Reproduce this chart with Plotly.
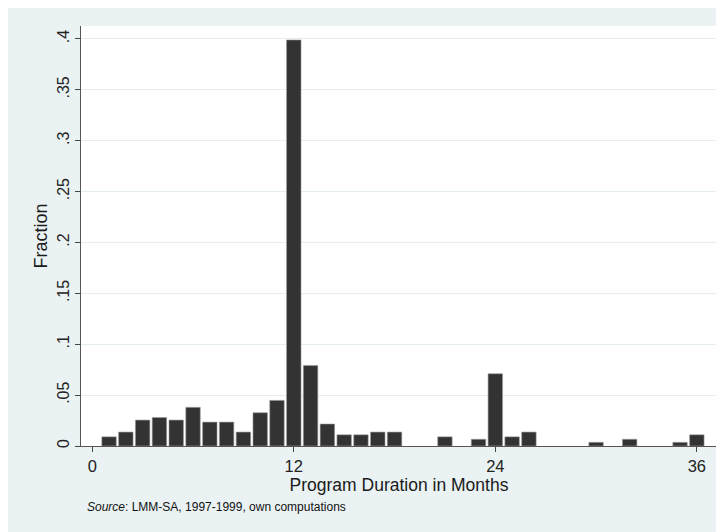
import plotly.graph_objects as go

# Share of programs by duration (months)
months = [1, 2, 3, 4, 5, 6, 7, 8, 9, 10, 11, 12, 13, 14, 15, 16, 17, 18,
          21, 23, 24, 25, 26, 30, 32, 35, 36]
fraction = [0.009, 0.0137, 0.0255, 0.028, 0.0255, 0.038, 0.0235, 0.0235, 0.0137,
            0.0327, 0.0448, 0.399, 0.079, 0.0216, 0.011, 0.011, 0.0137, 0.0137,
            0.009, 0.0066, 0.071, 0.009, 0.0137, 0.0036, 0.0066, 0.0036, 0.011]

y_ticks = [0, 0.05, 0.1, 0.15, 0.2, 0.25, 0.3, 0.35, 0.4]
y_labels = ["0", ".05", ".1", ".15", ".2", ".25", ".3", ".35", ".4"]
x_ticks = [0, 12, 24, 36]

bg = "#eaf2f3"
font = "Liberation Sans, Arial, sans-serif"

fig = go.Figure(go.Bar(
    x=months, y=fraction, width=0.86,
    marker=dict(color="#333333", line=dict(color="#9a9a9a", width=0.6)),
))

# Source note
fig.add_annotation(
    text="<i>Source</i>: LMM-SA, 1997-1999, own computations",
    xref="paper", yref="paper", x=0.006, y=-0.145, xanchor="left", yanchor="middle",
    showarrow=False, font=dict(family=font, size=12, color="#111111"),
)

fig.update_layout(
    width=724, height=532,
    margin=dict(l=73, r=15, t=18, b=94),
    paper_bgcolor=bg, plot_bgcolor="white",
    showlegend=False,
    font=dict(family=font, color="#222222"),
    xaxis=dict(
        range=[-0.67, 37.2], tickvals=x_ticks, ticks="outside", ticklen=5,
        tickcolor="#444444", showgrid=False, zeroline=False,
        showline=True, linecolor="#555555", linewidth=1.2,
        tickfont=dict(size=16.5), title=dict(text="Program Duration in Months",
                                              font=dict(size=17.5, color="#1a1a1a"), standoff=0),
    ),
    yaxis=dict(
        range=[0, 0.4127], tickvals=y_ticks, ticktext=y_labels, tickangle=-90,
        ticks="outside", ticklen=5, tickcolor="#444444",
        showgrid=True, gridcolor="#e4edef", gridwidth=1, zeroline=False,
        showline=True, linecolor="#555555", linewidth=1.2,
        tickfont=dict(size=16), title=dict(text="Fraction",
                                            font=dict(size=18, color="#1a1a1a"), standoff=2),
    ),
)

fig.write_html("out.html")
